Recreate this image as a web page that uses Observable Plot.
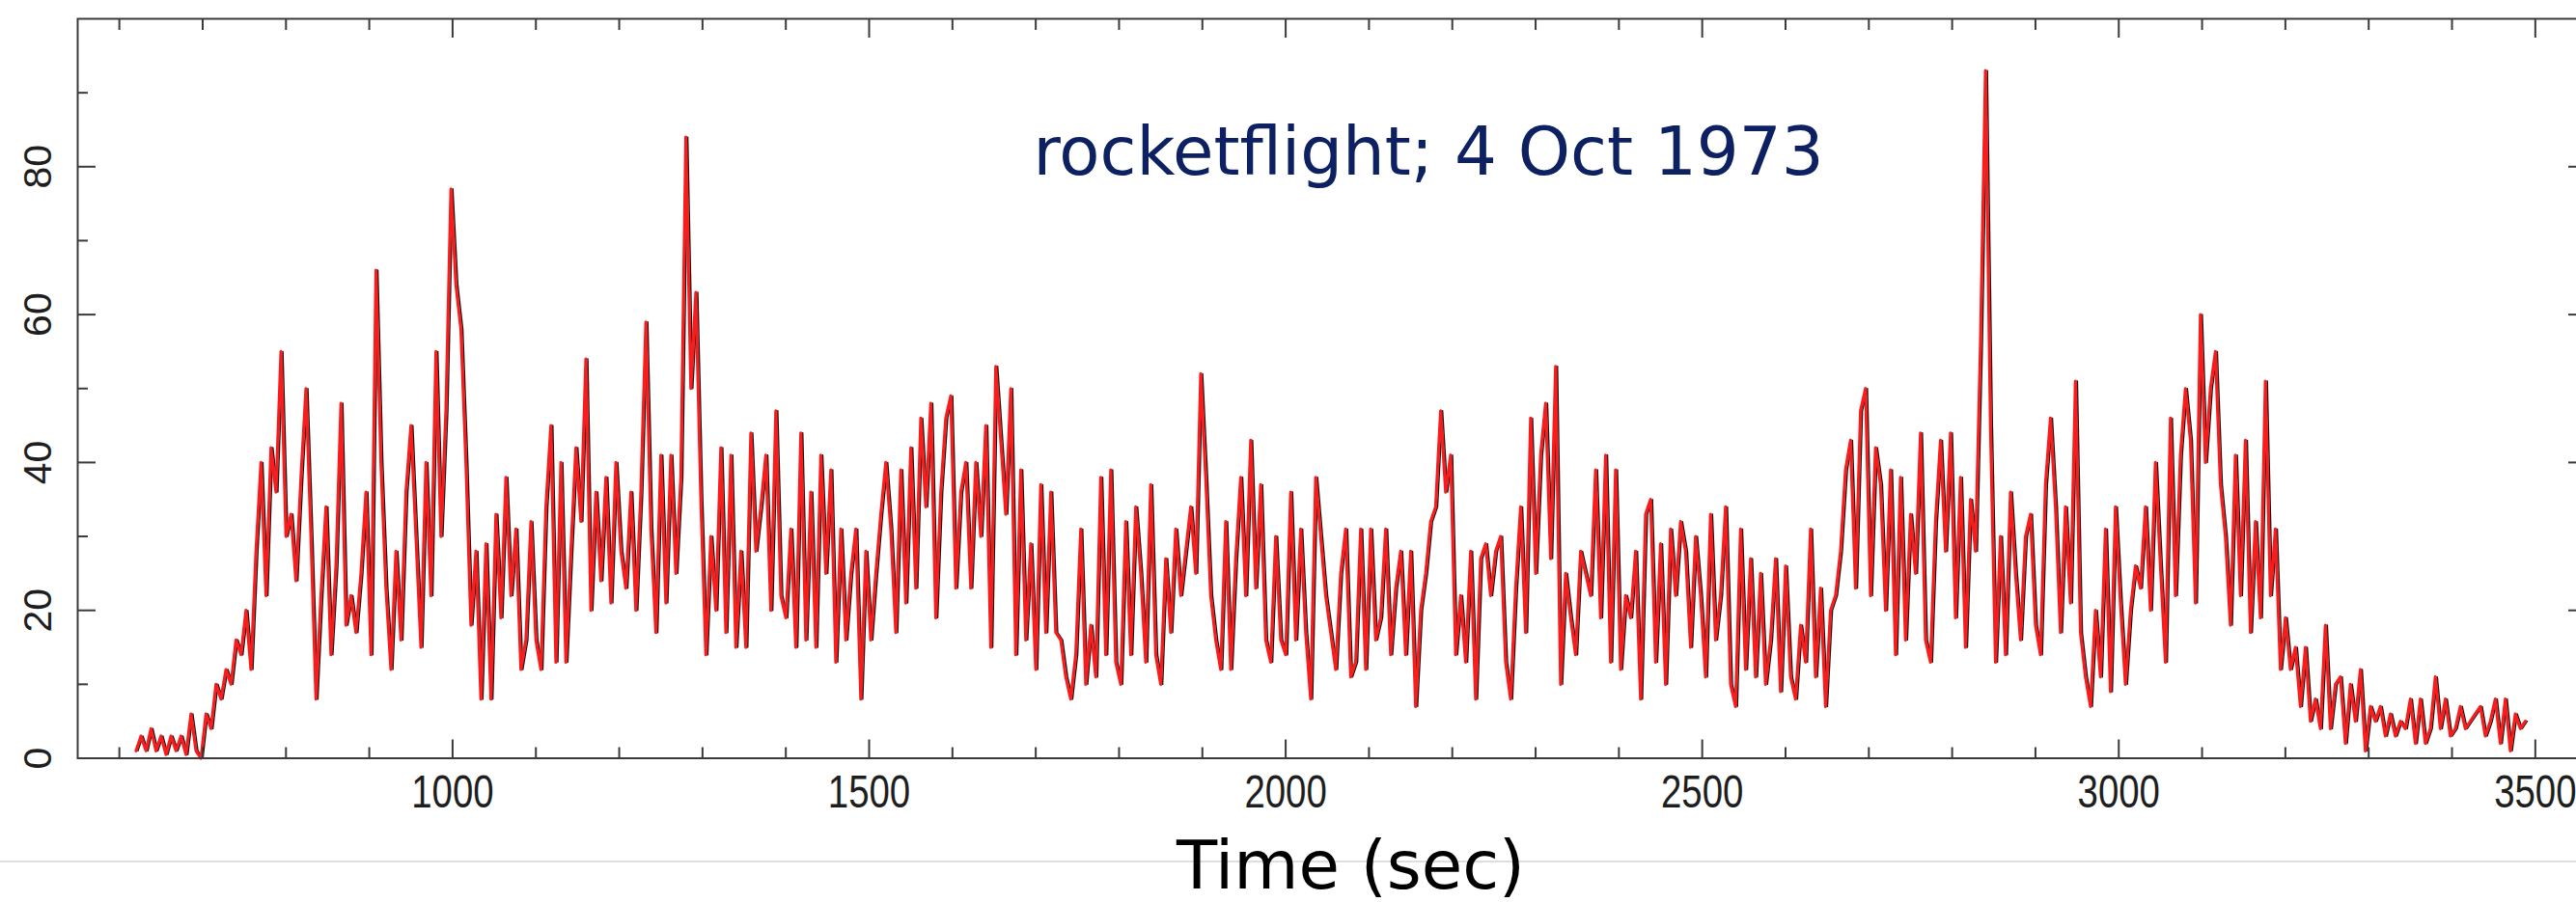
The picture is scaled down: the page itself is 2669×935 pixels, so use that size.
<!DOCTYPE html>
<html>
<head>
<meta charset="utf-8">
<script src="https://cdn.jsdelivr.net/npm/d3@7"></script>
<script src="https://cdn.jsdelivr.net/npm/@observablehq/plot@0.6"></script>
<style>
html, body { margin: 0; padding: 0; background: #fff; overflow: hidden; width: 2669px; height: 935px; }
#wrap { position: relative; width: 2669px; height: 935px; overflow: hidden; }
#rule { position: absolute; left: 0; top: 892px; width: 2669px; height: 2px; background: #dedede; }
#chart { position: absolute; left: 0; top: 0; }
</style>
</head>
<body>
<div id="wrap"><div id="rule"></div><div id="chart"></div></div>
<script>
// Counts per 6-second bin, in five consecutive segments
const binWidth = 6;
const seg0Start = 620;
const seg0 = [1,3,1,4,1,3,0.5,3,1,3,
  0.5,6,1,0,6,4,10,8,12,10,
  16,14,20,12,28,40,22,42,36,55,
  30,33,24,38,50,30,8,22,34,14,
  26,48,18,22,17,25,36,14,66,40,
  23,12,28,16,36,45,30,15,40,22,
  55,30,47,77,64,58,40,18,28,8,
  29,8,33,19,38,22,31,12,16,32,
  16,12,34,45,13,40,13,28,42,32,
  54,20,36,24,38,21,40];
const seg1Start = 1202;
const seg1 = [28,23,36,20,36,59,31,17,41,21,
  41,25,38,84,50,63,35,14,30,20,
  42,17,41,15,28,15,44,28,34,41,
  20,47,22,19,31,15,44,16,36,15,
  41,25,39,13,31,16,25,31,8,28,
  16,25,33,40,31,17,39,21,42,23,
  46,34,48,19,36,46,49,23,36,40,
  23,40,30,45,15,53,43,33,50,14,
  39,16,29,12,37,17,36,17,16,11,
  8,14,31,10,18,11,38,14,39,13];
const seg2Start = 1802;
const seg2 = [10,32,14,34,25,13,37,14,10,27,
  17,31,22,28,34,25,52,38,22,16,
  12,32,12,27,38,22,43,23,37,16,
  13,30,16,14,36,16,31,17,8,38,
  30,22,17,12,25,31,11,13,31,12,
  31,16,19,31,14,23,28,14,28,7,
  20,25,32,34,47,36,41,14,22,13,
  28,8,27,29,22,28,30,13,8,23,
  34,17,46,25,41,48,27,53,10,25,
  19,14,28,25,22,39,19,41,13,39,
  12];
const seg3Start = 2408;
const seg3 = [22,19,28,8,33,35,13,29,10,31,
  22,32,28,15,30,22,11,33,16,22,
  34,10,7,31,12,27,11,25,10,16,
  27,9,26,11,8,18,13,31,11,23,
  7,20,22,28,39,43,23,47,50,22,
  42,37,20,39,14,38,16,33,25,44,
  16,13,32,43,28,44,19,38,15,35,
  28,56,93,45,13,30,14,36,25,16,
  30,33,18,14,37,46,34,17,34,21,
  51,17,11,7,20,11,31,9,34,21];
const seg4Start = 3008;
const seg4 = [10,20,26,23,34,20,40,26,13,46,
  22,41,50,43,21,60,40,50,55,37,
  30,18,41,22,43,17,32,19,51,22,
  31,12,19,12,15,7,15,5,8,4,
  18,4,10,11,2,10,5,12,1,7,
  5,7,3,6,3,5,4,8,2,8,
  2,4,11,4,8,3,4,7,4,5,
  6,7,3,5,8,2,8,1,6,4,
  5];

const xMajor = [1000, 1500, 2000, 2500, 3000, 3500];
const xMinor = [600, 700, 800, 900, 1100, 1200, 1300, 1400, 1600, 1700, 1800, 1900,
  2100, 2200, 2300, 2400, 2600, 2700, 2800, 2900, 3100, 3200, 3300, 3400];
const yMajor = [0, 20, 40, 60, 80];
const yMinor = [10, 30, 50, 70, 90];
const titleText = "rocketflight; 4 Oct 1973";
const xLabelText = "Time (sec)";

const rows = [];
[[seg0Start, seg0], [seg1Start, seg1], [seg2Start, seg2], [seg3Start, seg3], [seg4Start, seg4]]
  .forEach(([start, vals]) => vals.forEach((v, i) => rows.push({t: start + i * binWidth, v})));

const tickColor = "#3a3a3a";
const labelColor = "#1e1e1e";
const tickOpts = {fill: "none", stroke: tickColor, strokeWidth: 2, label: null};

const plot = Plot.plot({
  width: 2690,
  height: 935,
  marginLeft: 80,
  marginRight: 11,
  marginTop: 19,
  marginBottom: 149.5,
  x: {domain: [550, 3561]},
  y: {domain: [0, 100]},
  style: "background:transparent;max-width:none;overflow:visible;font-family:'Liberation Sans',Arial,sans-serif;",
  marks: [
    Plot.line(rows, {x: "t", y: "v", stroke: "#151515", strokeWidth: 1.5, dx: 2}),
    Plot.line(rows, {x: "t", y: "v", stroke: "#f81c1c", strokeWidth: 3.2}),
    Plot.frame({stroke: tickColor, strokeWidth: 2}),
    Plot.axisX(xMajor, {anchor: "bottom", tickSize: 19, dy: -19, ...tickOpts}),
    Plot.axisX(xMinor, {anchor: "bottom", tickSize: 11, dy: -11, ...tickOpts}),
    Plot.axisX(xMajor, {anchor: "top", tickSize: 19, dy: 19, ...tickOpts}),
    Plot.axisX(xMinor, {anchor: "top", tickSize: 11, dy: 11, ...tickOpts}),
    Plot.axisY(yMajor, {anchor: "left", tickSize: 19, dx: 19, ...tickOpts}),
    Plot.axisY(yMinor, {anchor: "left", tickSize: 11, dx: 11, ...tickOpts}),
    Plot.axisY(yMajor, {anchor: "right", tickSize: 19, dx: -19, ...tickOpts}),
    Plot.axisY(yMinor, {anchor: "right", tickSize: 11, dx: -11, ...tickOpts}),
    Plot.axisX(xMajor, {anchor: "bottom", tickSize: 0, tickPadding: 17, fontSize: 48,
      fill: labelColor, tickFormat: "d", label: null}),
    Plot.text(yMajor, {y: d => d, text: d => String(d), frameAnchor: "left", dx: -41, rotate: -90,
      fontSize: 41, fill: labelColor, textAnchor: "middle", lineAnchor: "middle"}),
    Plot.text([titleText], {text: d => d, frameAnchor: "top-left", dx: 990, dy: 161,
      lineAnchor: "bottom", textAnchor: "start", fontSize: 69,
      fontFamily: "'DejaVu Sans', Verdana, sans-serif", fill: "#0c2062"}),
    Plot.text([xLabelText], {text: d => d, frameAnchor: "bottom", dx: 19.5, dy: 134.5,
      lineAnchor: "bottom", textAnchor: "middle", fontSize: 69,
      fontFamily: "'DejaVu Sans', Verdana, sans-serif", fill: "#000"})
  ]
});

// condensed look of the bottom tick labels
d3.select(plot).selectAll('g[aria-label="x-axis tick label"] text')
  .attr("transform", function() { return (this.getAttribute("transform") || "") + " scale(0.8,1)"; });

document.getElementById("chart").appendChild(plot);
</script>
</body>
</html>
